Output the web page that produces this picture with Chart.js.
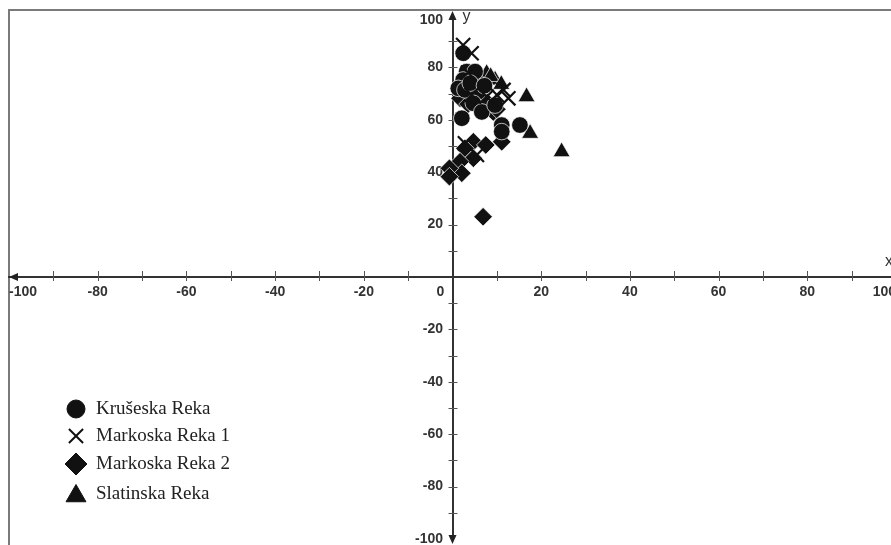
<!DOCTYPE html>
<html><head><meta charset="utf-8">
<script src="https://cdn.jsdelivr.net/npm/chart.js@4.4.0/dist/chart.umd.min.js"></script>
<style>
html,body{margin:0;padding:0;background:#fff;overflow:hidden;width:891px;height:545px;}
#frame{position:absolute;left:8px;top:9px;width:920px;height:600px;border-top:2px solid #7a7a7a;border-left:2px solid #7a7a7a;box-sizing:border-box;}
#c{position:absolute;left:0;top:0;}
</style></head><body>
<div id="frame"></div>
<canvas id="c" width="920" height="545"></canvas>
<script>
// ---- data (x, y) ----
const seriesNames = ['Krušeska Reka', 'Markoska Reka 1', 'Markoska Reka 2', 'Slatinska Reka'];
const kruseskaReka = [[2.4,85.4],[3.2,78.4],[5.1,78.4],[2.4,75.2],[1.3,72],[2.8,71.4],[5.8,70.7],[4.7,66.3],[6.6,63],[9.6,65.6],[2.1,60.6],[11.1,58],[11.1,55.5],[15.2,58],[4,74],[7.2,73]];
const markoskaReka1 = [[2.4,88.5],[4.3,85.4],[4.3,69.5],[7.7,68.8],[10,69.5],[11.5,71.4],[12.6,68.2],[2.8,51],[5.5,46.6],[3.5,78]];
const markoskaReka2 = [[1.7,68.2],[7.7,66.9],[9.2,63],[10,64],[4.7,51.6],[2.8,49.1],[7.5,50.4],[11.1,51.6],[4.7,45.3],[1.7,44],[2.1,39.6],[-0.7,41.5],[-0.7,38.3],[6.9,23],[3.5,66]];
const slatinskaReka = [[7.7,77.7],[9.6,75.2],[8.6,76.5],[16.7,68.8],[17.5,54.8],[24.6,47.8],[5.6,76.5],[11,73.5]];
const axisMin = -100, axisMax = 100, tickStep = 10;
const labelledTicks = [-100,-80,-60,-40,-20,20,40,60,80,100];

const toPts = a => a.map(p => ({x: p[0], y: p[1]}));
const ink = '#111';
const styles = [
  {pointStyle:'circle', radius:8.3, borderWidth:0.7, border:'#fff', order:1},
  {pointStyle:'crossRot', radius:10, borderWidth:2.2, border:ink, order:0},
  {pointStyle:'rectRot', radius:9.3, borderWidth:0.7, border:'#fff', order:2},
  {pointStyle:'triangle', radius:9.8, borderWidth:0.7, border:'#fff', order:3}
];
const legendStyles = [
  {pointStyle:'circle', radius:9, borderWidth:1},
  {pointStyle:'crossRot', radius:10, borderWidth:2},
  {pointStyle:'rectRot', radius:11, borderWidth:1},
  {pointStyle:'triangle', radius:11.5, borderWidth:1}
];
const allData = [kruseskaReka, markoskaReka1, markoskaReka2, slatinskaReka];

const tickLabel = v => labelledTicks.includes(v) ? String(v) : '';
const tickFont = {family:'Liberation Sans', weight:'bold', size:14};

// shift the y tick labels to the left of the centred axis
function shiftYLabels(scale) {
  if (scale._shifted) return;
  scale._shifted = true;
  const orig = scale._computeLabelItems.bind(scale);
  scale._computeLabelItems = function (ca) {
    const items = orig(ca);
    items.forEach((it, i) => {
      const t = it.options.translation;
      t[0] -= 9.5;
      const v = scale.ticks[i] ? scale.ticks[i].value : null;
      if (v === 100) t[1] += 5;
    });
    return items;
  };
}

const axisDeco = {
  id: 'axisDeco',
  beforeDatasetsDraw(chart) {
    const {ctx, scales: {x, y}} = chart;
    const x0 = x.getPixelForValue(0), y0 = y.getPixelForValue(0);
    ctx.save();
    ctx.strokeStyle = '#555'; ctx.lineWidth = 1;
    ctx.beginPath();
    x.ticks.forEach(t => {
      if (t.value === 0 || Math.abs(t.value) === 100) return;
      const px = Math.round(x.getPixelForValue(t.value)) + 0.5;
      ctx.moveTo(px, y0 - 6); ctx.lineTo(px, y0 + 4);
    });
    y.ticks.forEach(t => {
      if (t.value === 0 || Math.abs(t.value) === 100) return;
      const py = Math.round(y.getPixelForValue(t.value)) + 0.5;
      ctx.moveTo(x0 - 4, py); ctx.lineTo(x0 + 5, py);
    });
    ctx.stroke();
    // arrow heads
    ctx.fillStyle = '#222';
    const yt = y.getPixelForValue(100), yb = y.getPixelForValue(-100), xl = x.getPixelForValue(-100);
    ctx.beginPath(); ctx.moveTo(x0, yt - 4); ctx.lineTo(x0 - 4, yt + 5); ctx.lineTo(x0 + 4, yt + 5); ctx.closePath(); ctx.fill();
    ctx.beginPath(); ctx.moveTo(x0, yb + 5); ctx.lineTo(x0 - 4, yb - 4); ctx.lineTo(x0 + 4, yb - 4); ctx.closePath(); ctx.fill();
    ctx.beginPath(); ctx.moveTo(xl, y0); ctx.lineTo(xl + 9, y0 - 4); ctx.lineTo(xl + 9, y0 + 4); ctx.closePath(); ctx.fill();
    // axis names and origin label
    ctx.fillStyle = '#333';
    ctx.font = '16px "Liberation Sans"';
    ctx.textBaseline = 'middle'; ctx.textAlign = 'left';
    ctx.fillText('y', x0 + 10, yt + 2);
    ctx.fillText('x', 885, y0 - 15);
    ctx.font = 'bold 14px "Liberation Sans"';
    ctx.textAlign = 'center';
    ctx.fillText('0', x0 - 12, y0 + 15);
    ctx.restore();
  },
  afterDatasetsDraw(chart) {
    const ctx = chart.ctx;
    const lx = 76, ly = [409, 436, 464, 494];
    ctx.save();
    chart.data.datasets.forEach((ds, i) => {
      ctx.fillStyle = ink; ctx.strokeStyle = ink; ctx.lineWidth = legendStyles[i].borderWidth;
      const yy = ly[i] + (legendStyles[i].pointStyle === 'triangle' ? 2 : 0);
      Chart.helpers.drawPoint(ctx, {pointStyle: legendStyles[i].pointStyle, radius: legendStyles[i].radius, rotation: 0, borderWidth: legendStyles[i].borderWidth}, lx, yy);
      ctx.fillStyle = '#222';
      ctx.font = '19px "Liberation Serif"';
      ctx.textAlign = 'left'; ctx.textBaseline = 'middle';
      ctx.fillText(ds.label, 96, ly[i]);
    });
    ctx.restore();
  }
};

new Chart(document.getElementById('c'), {
  type: 'scatter',
  data: {
    datasets: allData.map((d, i) => ({
      label: seriesNames[i],
      data: toPts(d),
      order: styles[i].order,
      pointStyle: styles[i].pointStyle,
      pointRadius: styles[i].radius,
      pointBorderWidth: styles[i].borderWidth,
      backgroundColor: ink,
      borderColor: styles[i].border,
      pointHoverRadius: styles[i].radius
    }))
  },
  options: {
    responsive: false,
    animation: false,
    events: [],
    layout: {autoPadding: false, padding: {left: 9, right: 920 - 896, top: 15, bottom: 6}},
    plugins: {legend: {display: false}, tooltip: {enabled: false}},
    scales: {
      x: {
        type: 'linear', min: axisMin, max: axisMax, position: {y: 0},
        grid: {display: false, drawTicks: false},
        border: {display: true, color: '#333', width: 2},
        ticks: {stepSize: tickStep, align: 'inner', padding: 7, color: '#333', font: tickFont, autoSkip: false, maxRotation: 0, callback: v => tickLabel(v)},
        afterFit(s) { s.height = 0; s.paddingLeft = 0; s.paddingRight = 0; s.paddingTop = 0; s.paddingBottom = 0; }
      },
      y: {
        type: 'linear', min: axisMin, max: axisMax, position: {x: 0},
        grid: {display: false, drawTicks: false},
        border: {display: true, color: '#333', width: 2},
        ticks: {stepSize: tickStep, padding: 10, color: '#333', font: tickFont, autoSkip: false, callback: v => tickLabel(v)},
        afterFit(s) { s.width = 0; s.paddingTop = 0; s.paddingBottom = 0; s.paddingLeft = 0; s.paddingRight = 0; },
        afterUpdate(s) { shiftYLabels(s); }
      }
    }
  },
  plugins: [axisDeco]
});
</script>
</body></html>
